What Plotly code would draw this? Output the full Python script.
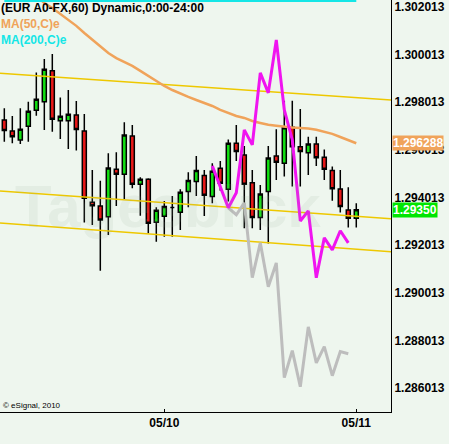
import plotly.graph_objects as go

# ---------------- data ----------------
bar_index = list(range(45))
opens = [1.29726, 1.29680, 1.29642, 1.29700, 1.29767, 1.29803, 1.29933, 1.29723, 1.29723, 1.29747,
         1.29680, 1.29381, 1.29366, 1.29321, 1.29520, 1.29499, 1.29659, 1.29457, 1.29478, 1.29297,
         1.29323, 1.29359, 1.29339, 1.29426, 1.29468, 1.29494, 1.29405, 1.29524, 1.29436, 1.29629,
         1.29580, 1.29463, 1.29317, 1.29426, 1.29575, 1.29545, 1.29696, 1.29614, 1.29589, 1.29626,
         1.29570, 1.29515, 1.29437, 1.29349, 1.29314]
highs = [1.29775, 1.29743, 1.29775, 1.29803, 1.29925, 1.29982, 1.30003, 1.29821, 1.29852, 1.29806,
         1.29751, 1.29517, 1.29471, 1.29587, 1.29591, 1.29717, 1.29705, 1.29486, 1.29482, 1.29360,
         1.29387, 1.29408, 1.29436, 1.29507, 1.29575, 1.29517, 1.29545, 1.29554, 1.29645, 1.29705,
         1.29617, 1.29517, 1.29454, 1.29617, 1.29687, 1.29807, 1.29807, 1.29772, 1.29656, 1.29656,
         1.29603, 1.29531, 1.29517, 1.29444, 1.29377]
lows = [1.29635, 1.29629, 1.29626, 1.29635, 1.29744, 1.29684, 1.29677, 1.29647, 1.29605, 1.29598,
        1.29296, 1.29286, 1.29094, 1.29244, 1.29366, 1.29395, 1.29440, 1.29325, 1.29251, 1.29216,
        1.29237, 1.29237, 1.29265, 1.29360, 1.29408, 1.29324, 1.29377, 1.29430, 1.29384, 1.29554,
        1.29272, 1.29272, 1.29265, 1.29208, 1.29475, 1.29489, 1.29447, 1.29447, 1.29496, 1.29533,
        1.29475, 1.29388, 1.29338, 1.29276, 1.29276]
closes = [1.29682, 1.29656, 1.29687, 1.29763, 1.29813, 1.29939, 1.29729, 1.29742, 1.29750, 1.29686,
          1.29398, 1.29367, 1.29307, 1.29525, 1.29499, 1.29663, 1.29457, 1.29478, 1.29293, 1.29348,
          1.29364, 1.29359, 1.29423, 1.29473, 1.29515, 1.29411, 1.29511, 1.29461, 1.29629, 1.29594,
          1.29457, 1.29317, 1.29416, 1.29567, 1.29549, 1.29694, 1.29614, 1.29594, 1.29626, 1.29568,
          1.29520, 1.29438, 1.29364, 1.29314, 1.29350]

ma50 = [1.30355, 1.30326, 1.30296, 1.30271, 1.30246, 1.30217, 1.30196, 1.30171, 1.30146, 1.30121,
        1.30091, 1.30062, 1.30033, 1.30007, 1.29986, 1.29970, 1.29953, 1.29932, 1.29911, 1.29890,
        1.29869, 1.29852, 1.29836, 1.29823, 1.29810, 1.29798, 1.29785, 1.29769, 1.29756, 1.29743,
        1.29735, 1.29722, 1.29714, 1.29706, 1.29702, 1.29697, 1.29695, 1.29693, 1.29691, 1.29685,
        1.29676, 1.29668, 1.29655, 1.29643, 1.296288]
ma200 = [1.30226] * 45

forecast_index = list(range(26, 44))
forecast_high = [1.29534, 1.29442, 1.29358, 1.29421, 1.29685, 1.29622, 1.29924, 1.29840, 1.30062,
                 1.29769, 1.29643, 1.29303, 1.29345, 1.29065, 1.29232, 1.29182, 1.29262, 1.29211]
forecast_low_index = list(range(28, 44))
forecast_low = [1.29358, 1.29329, 1.29379, 1.29065, 1.29211, 1.29027, 1.29127, 1.28646,
                1.28759, 1.28608, 1.28859, 1.28708, 1.28776, 1.28654, 1.28755, 1.28746]

channel_x = [-0.54, 48.34]
channel_upper = [1.29922, 1.29810]
channel_mid = [1.29429, 1.29312]
channel_lower = [1.29294, 1.29174]

y_ticks = [1.286013, 1.288013, 1.290013, 1.292013, 1.294013, 1.296013, 1.298013, 1.300013, 1.302013]
y_ticktext = ["%.6f" % v for v in y_ticks]
x_ticks = [20, 44]
x_ticktext = ["05/10", "05/11"]
last_ma50_label = "1.296288"
last_close_label = "1.29350"

# ---------------- styling ----------------
BG = "#EEF6EE"
FONT = "Liberation Sans, Arial, sans-serif"
ORANGE = "#F0A35A"
CYAN = "#14E6E6"
YELLOW = "#EEC800"

fig = go.Figure()

for ys in (channel_upper, channel_mid, channel_lower):
    fig.add_trace(go.Scatter(x=channel_x, y=ys, mode="lines",
                             line=dict(color=YELLOW, width=1.5), hoverinfo="skip"))

fig.add_trace(go.Candlestick(
    x=bar_index, open=opens, high=highs, low=lows, close=closes,
    increasing=dict(line=dict(color="black", width=1.5), fillcolor="#12E012"),
    decreasing=dict(line=dict(color="black", width=1.5), fillcolor="#E81818"),
    whiskerwidth=0,
))

fig.add_trace(go.Scatter(x=bar_index, y=ma50, mode="lines",
                         line=dict(color=ORANGE, width=2.5)))
fig.add_trace(go.Scatter(x=bar_index, y=ma200, mode="lines",
                         line=dict(color=CYAN, width=2.5)))
fig.add_trace(go.Scatter(x=forecast_low_index, y=forecast_low, mode="lines",
                         line=dict(color="#BDBDBD", width=3)))
fig.add_trace(go.Scatter(x=forecast_index, y=forecast_high, mode="lines",
                         line=dict(color="#F014F0", width=3)))

Y0, Y1 = 1.285019, 1.302294
PLOT_H = 412.0

fig.update_layout(
    width=449, height=444,
    margin=dict(l=0, r=58, t=0, b=32, autoexpand=False),
    paper_bgcolor=BG, plot_bgcolor=BG,
    showlegend=False,
    font=dict(family=FONT, color="black"),
    boxgap=0.28,
    xaxis=dict(range=channel_x, showline=True, linecolor="black", linewidth=1,
               showgrid=False, zeroline=False, tickvals=x_ticks, ticktext=x_ticktext,
               ticks="inside", ticklen=3, tickcolor="black",
               tickfont=dict(family=FONT, size=12, weight="bold", color="black"),
               rangeslider=dict(visible=False), fixedrange=True, automargin=False),
    yaxis=dict(range=[Y0, Y1], side="right", showline=True, linecolor="black", linewidth=1,
               showgrid=False, zeroline=False, tickvals=y_ticks, ticktext=y_ticktext,
               ticks="", tickfont=dict(family=FONT, size=12, weight="bold", color="black"),
               ticklabeloverflow="allow", fixedrange=True, automargin=False),
)

def ptop(px):
    return 1 - px / PLOT_H

anns = [
    dict(text="Tagesblick", x=0.43, y=ptop(206), xref="paper", yref="paper",
         xanchor="center", yanchor="middle", showarrow=False,
         font=dict(family=FONT, size=60, weight="bold", color="rgba(150,175,150,0.12)")),
    dict(text="(EUR A0-FX,60) Dynamic,0:00-24:00", x=0, y=ptop(8), xref="paper", yref="paper",
         xanchor="left", yanchor="middle", showarrow=False, borderpad=0,
         font=dict(family=FONT, size=12, weight="bold", color="black")),
    dict(text="MA(50,C)e", x=0, y=ptop(24), xref="paper", yref="paper",
         xanchor="left", yanchor="middle", showarrow=False, borderpad=0,
         font=dict(family=FONT, size=12, weight="bold", color=ORANGE)),
    dict(text="MA(200,C)e", x=0, y=ptop(40), xref="paper", yref="paper",
         xanchor="left", yanchor="middle", showarrow=False, borderpad=0,
         font=dict(family=FONT, size=12, weight="bold", color=CYAN)),
    dict(text="© eSignal, 2010", x=0.005, y=ptop(405), xref="paper", yref="paper",
         xanchor="left", yanchor="middle", showarrow=False, borderpad=0,
         font=dict(family=FONT, size=8, color="black")),
    dict(text=last_ma50_label, x=1, y=ma50[-1], xref="paper", yref="y",
         xanchor="left", yanchor="middle", showarrow=False, bgcolor=ORANGE, borderpad=0,
         xshift=1, font=dict(family=FONT, size=12, weight="bold", color="white")),
    dict(text=last_close_label, x=1, y=closes[-1], xref="paper", yref="y",
         xanchor="left", yanchor="middle", showarrow=False, bgcolor="#00E600", borderpad=0,
         xshift=1, font=dict(family=FONT, size=12, weight="bold", color="white")),
]
fig.update_layout(annotations=anns)

fig.write_html("out.html",
               config={"displayModeBar": False, "staticPlot": True},
               post_script="document.body.style.margin='0';document.body.style.padding='0';"
                           "document.body.style.overflow='hidden';")
